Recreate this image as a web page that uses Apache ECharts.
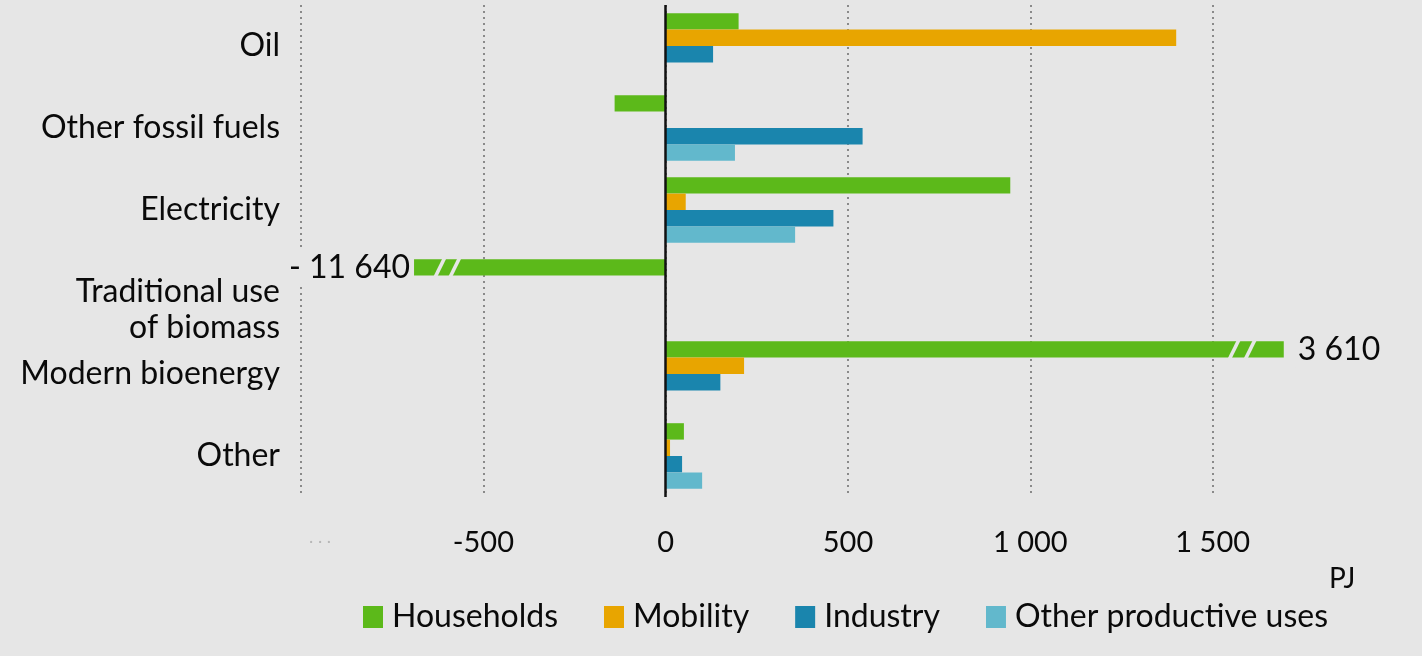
<!DOCTYPE html>
<html>
<head>
<meta charset="utf-8">
<script src="https://cdn.jsdelivr.net/npm/echarts@6/dist/echarts.min.js"></script>
<style>
html,body{margin:0;padding:0;background:#e6e6e6;}
#chart{width:1422px;height:656px;}
</style>
</head>
<body>
<div id="chart"></div>
<script>
// ---- data ----
const categories = ['Oil', 'Other fossil fuels', 'Electricity', 'Traditional use\nof biomass', 'Modern bioenergy', 'Other'];
const seriesNames = ['Households', 'Mobility', 'Industry', 'Other productive uses'];
const households = [200, -140, 945, -11640, 3610, 50];          // actual values
const householdsDrawn = [200, -140, 945, -690, 1695, 50];       // bar lengths shown (broken bars truncated)
const mobility = [1400, null, 55, null, 215, 12];
const industry = [130, 540, 460, null, 150, 45];
const otherProductive = [null, 190, 355, null, null, 100];
const breakMarks = [[-619, 3], [-578, 3], [1559, 4], [1603, 4]]; // [value, category index] of "//" cuts
const xMin = -1000, xMax = 2000, xStep = 500;
const unit = 'PJ';

// ---- style ----
const BG = '#e6e6e6';
const colors = ['#5cb91a', '#e8a500', '#1a85ad', '#62b8cc'];
const FONT = 'Lato';
const TXT = '#0a0a0a';

function fmt(n) {
  if (n < 0) return '- ' + fmt(-n);
  return String(n).replace(/\B(?=(\d{3})+(?!\d))/g, ' ');
}

const chart = echarts.init(document.getElementById('chart'));

const hhData = householdsDrawn.map((v, i) => {
  const broken = v !== households[i];
  return {
    value: v,
    label: broken ? {
      show: true,
      position: v < 0 ? 'left' : 'right',
      distance: v < 0 ? 2 : 12,
      formatter: () => fmt(households[i]),
      fontFamily: FONT, fontSize: 32, color: TXT,
      backgroundColor: BG, padding: [2, 2]
    } : { show: false }
  };
});

function barSeries(name, data, color) {
  return {
    name: name, type: 'bar', data: data,
    barGap: '0%', barCategoryGap: '20%',
    itemStyle: { color: color },
    z: 3
  };
}

const option = {
  backgroundColor: BG,
  animation: false,
  textStyle: { fontFamily: FONT },
  grid: { left: 301, right: 27, top: 5, bottom: 159, outerBoundsMode: 'none' },
  legend: {
    data: seriesNames,
    left: 358, top: 596,
    icon: 'rect', itemWidth: 20, itemHeight: 22, itemGap: 46,
    textStyle: { fontFamily: FONT, fontSize: 32, color: TXT, padding: [0, 0, 0, 4] }
  },
  xAxis: {
    type: 'value', min: xMin, max: xMax, interval: xStep,
    name: unit, nameLocation: 'end', nameGap: -66,
    nameTextStyle: { fontFamily: FONT, fontSize: 28, color: TXT, verticalAlign: 'top', padding: [68, 0, 0, 0] },
    axisLine: { show: false }, axisTick: { show: false },
    axisLabel: {
      margin: 31, fontFamily: FONT, fontSize: 29, color: TXT,
      formatter: v => v === xMax ? '' : (v === xMin ? '{f|. . .}' : (v < 0 ? '-' + fmt(-v) : fmt(v))),
      rich: { f: { color: '#b5b5b5', fontSize: 18, padding: [0, 0, 0, 38] } }
    },
    splitLine: { show: true, showMaxLine: false, lineStyle: { color: '#8a8a8a', width: 2, type: [2, 4] } }
  },
  yAxis: {
    type: 'category', data: categories, inverse: true,
    axisLine: { show: false, onZero: false }, axisTick: { show: false },
    axisLabel: {
      margin: 21, fontFamily: FONT, fontSize: 32, color: TXT, lineHeight: 36,
      formatter: v => v.indexOf('\n') >= 0 ? ' \n' + v : v
    }
  },
  series: [
    Object.assign(barSeries(seriesNames[0], hhData, colors[0]), {
      markLine: {
        silent: true, symbol: 'none', label: { show: false },
        lineStyle: { color: '#111', width: 2.5, type: 'solid' },
        data: [{ xAxis: 0 }], z: 6
      }
    }),
    barSeries(seriesNames[1], mobility, colors[1]),
    barSeries(seriesNames[2], industry, colors[2]),
    barSeries(seriesNames[3], otherProductive, colors[3]),
    {
      type: 'custom', name: 'breaks', data: breakMarks, z: 5, silent: true,
      encode: { x: 0, y: 1 },
      renderItem: function (params, api) {
        const c = api.coord([api.value(0), api.value(1)]);
        const band = api.size([0, 1])[1];
        const bw = band * 0.8 / 4;
        const yc = c[1] - 1.5 * bw;
        const top = yc - bw / 2 - 1, bot = yc + bw / 2 + 1;
        const g = 4, s = 9;
        return {
          type: 'polygon',
          shape: { points: [[c[0] - g / 2 + s / 2, top], [c[0] + g / 2 + s / 2, top], [c[0] + g / 2 - s / 2, bot], [c[0] - g / 2 - s / 2, bot]] },
          style: { fill: BG }
        };
      }
    }
  ]
};
chart.setOption(option);
</script>
</body>
</html>
